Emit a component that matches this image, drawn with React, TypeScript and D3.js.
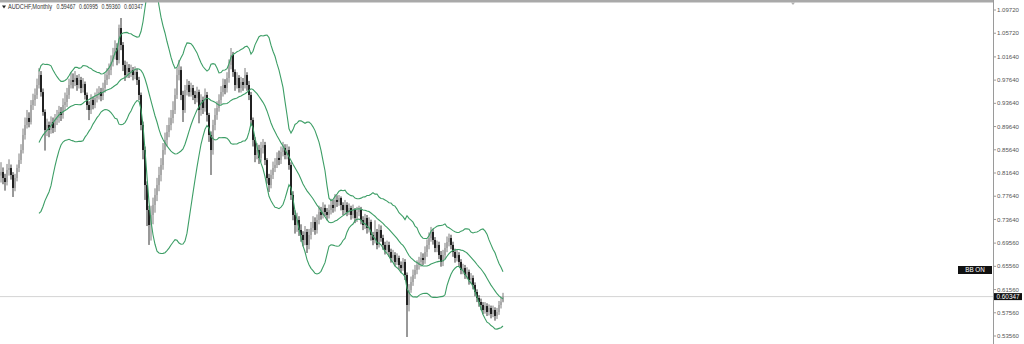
import React from "react";
import * as d3 from "d3";

// Monthly AUDCHF candles
const firstOpen = 0.812;
const closes = [
  0.8181, 0.8078, 0.8009, 0.8216, 0.8250, 0.8130, 0.7906, 0.8078, 0.8250, 0.8388,
  0.8560, 0.8819, 0.8991, 0.9112, 0.9043, 0.9335, 0.9422, 0.9508, 0.9680, 0.9852,
  0.9559, 0.9215, 0.8905, 0.8991, 0.8905, 0.9043, 0.8939, 0.9077, 0.9112, 0.9215,
  0.9163, 0.9335, 0.9387, 0.9508, 0.9680, 0.9766, 0.9732, 0.9801, 0.9680, 0.9766,
  0.9628, 0.9697, 0.9508, 0.9335, 0.9249, 0.9422, 0.9335, 0.9456, 0.9508, 0.9559,
  0.9490, 0.9628, 0.9766, 0.9852, 0.9938, 1.0076, 1.0197, 1.0317, 1.0111, 1.0662,
  1.0369, 1.0025, 0.9852, 0.9973, 0.9904, 0.9938, 0.9852, 0.9904, 0.9766, 0.9508,
  0.8991, 0.8560, 0.7957, 0.7527, 0.7268, 0.7441, 0.7613, 0.7785, 0.7957, 0.8130,
  0.8302, 0.8560, 0.8733, 0.8870, 0.8991, 0.9112, 0.9249, 0.9508, 0.9852, 0.9938,
  0.9508, 0.9249, 0.9594, 0.9680, 0.9559, 0.9628, 0.9508, 0.9456, 0.9559, 0.9249,
  0.9422, 0.9284, 0.9508, 0.9163, 0.8819, 0.8560, 0.8991, 0.9163, 0.9284, 0.9422,
  0.9559, 0.9680, 0.9628, 0.9801, 1.0025, 1.0197, 0.9904, 0.9680, 0.9801, 0.9628,
  0.9732, 0.9680, 0.9852, 0.9680, 0.9508, 0.9077, 0.8733, 0.8474, 0.8560, 0.8423,
  0.8595, 0.8646, 0.8388, 0.8078, 0.7957, 0.8130, 0.8250, 0.8302, 0.8423, 0.8388,
  0.8526, 0.8595, 0.8474, 0.8560, 0.8302, 0.7785, 0.7441, 0.7268, 0.7354, 0.7182,
  0.7096, 0.7010, 0.7148, 0.6924, 0.7096, 0.7217, 0.7320, 0.7182, 0.7354, 0.7492,
  0.7441, 0.7561, 0.7492, 0.7441, 0.7527, 0.7613, 0.7561, 0.7699, 0.7665, 0.7733,
  0.7613, 0.7527, 0.7613, 0.7492, 0.7561, 0.7441, 0.7527, 0.7389, 0.7492, 0.7527,
  0.7354, 0.7268, 0.7389, 0.7217, 0.7320, 0.7096, 0.7010, 0.7148, 0.6924, 0.7182,
  0.7044, 0.6924, 0.6838, 0.6924, 0.6803, 0.6700, 0.6751, 0.6631, 0.6700, 0.6579,
  0.6527, 0.6631, 0.6407, 0.5890, 0.6148, 0.6286, 0.6407, 0.6493, 0.6579, 0.6631,
  0.6700, 0.6665, 0.6803, 0.6924, 0.7044, 0.7148, 0.7010, 0.6872, 0.6924, 0.6751,
  0.6631, 0.6751, 0.6872, 0.6975, 0.7044, 0.6924, 0.6803, 0.6700, 0.6751, 0.6631,
  0.6493, 0.6527, 0.6407, 0.6459, 0.6321, 0.6355, 0.6235, 0.6114, 0.6011, 0.5942,
  0.5890, 0.5804, 0.5872, 0.5769, 0.5838, 0.5735, 0.5804, 0.5701, 0.5769, 0.5890,
  0.59467, 0.60347,
];
const highs = [
  0.835, 0.826, 0.815, 0.832, 0.840, 0.831, 0.818, 0.815, 0.831, 0.850,
  0.866, 0.893, 0.912, 0.925, 0.921, 0.942, 0.953, 0.962, 0.979, 0.997,
  0.992, 0.962, 0.926, 0.910, 0.905, 0.914, 0.912, 0.918, 0.925, 0.932,
  0.930, 0.945, 0.955, 0.963, 0.979, 0.990, 0.988, 0.992, 0.985, 0.987,
  0.982, 0.980, 0.974, 0.955, 0.940, 0.952, 0.948, 0.955, 0.962, 0.966,
  0.963, 0.972, 0.988, 0.997, 1.005, 1.019, 1.032, 1.045, 1.040, 1.072,
  1.0834, 1.042, 1.010, 1.008, 1.004, 1.003, 0.999, 1.000, 0.996, 0.982,
  0.955, 0.905, 0.862, 0.802, 0.760, 0.760, 0.774, 0.790, 0.808, 0.827,
  0.842, 0.868, 0.886, 0.899, 0.912, 0.925, 0.940, 0.962, 0.998, 1.0111,
  1.000, 0.958, 0.968, 0.978, 0.975, 0.972, 0.968, 0.958, 0.965, 0.960,
  0.952, 0.948, 0.962, 0.956, 0.920, 0.888, 0.908, 0.928, 0.940, 0.952,
  0.966, 0.979, 0.978, 0.990, 1.012, 1.0317, 1.025, 0.995, 0.990, 0.985,
  0.982, 0.980, 0.9973, 0.990, 0.975, 0.956, 0.912, 0.878, 0.868, 0.865,
  0.870, 0.875, 0.870, 0.842, 0.815, 0.822, 0.836, 0.842, 0.852, 0.855,
  0.862, 0.870, 0.866, 0.866, 0.862, 0.835, 0.785, 0.752, 0.748, 0.742,
  0.728, 0.716, 0.725, 0.720, 0.720, 0.732, 0.742, 0.740, 0.745, 0.760,
  0.758, 0.766, 0.762, 0.756, 0.762, 0.772, 0.770, 0.780, 0.778, 0.7785,
  0.776, 0.766, 0.770, 0.766, 0.764, 0.760, 0.762, 0.756, 0.758, 0.760,
  0.758, 0.742, 0.746, 0.744, 0.740, 0.736, 0.715, 0.735, 0.720, 0.728,
  0.726, 0.710, 0.698, 0.700, 0.698, 0.686, 0.684, 0.680, 0.678, 0.674,
  0.664, 0.670, 0.668, 0.645, 0.625, 0.638, 0.650, 0.658, 0.666, 0.672,
  0.680, 0.678, 0.690, 0.702, 0.714, 0.7235, 0.720, 0.706, 0.700, 0.698,
  0.682, 0.684, 0.696, 0.707, 0.712, 0.710, 0.698, 0.686, 0.684, 0.680,
  0.668, 0.660, 0.658, 0.654, 0.650, 0.644, 0.640, 0.628, 0.616, 0.606,
  0.600, 0.594, 0.594, 0.592, 0.590, 0.588, 0.588, 0.585, 0.584, 0.596,
  0.602, 0.60995,
];
const lows = [
  0.800, 0.797, 0.786, 0.795, 0.812, 0.805, 0.7751, 0.785, 0.802, 0.818,
  0.832, 0.850, 0.874, 0.893, 0.895, 0.900, 0.925, 0.932, 0.944, 0.962,
  0.948, 0.915, 0.855, 0.880, 0.878, 0.884, 0.885, 0.887, 0.899, 0.903,
  0.906, 0.910, 0.925, 0.930, 0.944, 0.962, 0.962, 0.966, 0.958, 0.962,
  0.954, 0.955, 0.943, 0.925, 0.9075, 0.918, 0.926, 0.928, 0.938, 0.943,
  0.940, 0.942, 0.955, 0.968, 0.978, 0.985, 1.000, 1.012, 1.002, 1.005,
  1.028, 0.992, 0.975, 0.980, 0.980, 0.982, 0.976, 0.978, 0.968, 0.942,
  0.890, 0.840, 0.770, 0.725, 0.6925, 0.700, 0.728, 0.748, 0.768, 0.785,
  0.802, 0.822, 0.848, 0.862, 0.878, 0.890, 0.902, 0.918, 0.944, 0.976,
  0.942, 0.9043, 0.920, 0.950, 0.948, 0.948, 0.942, 0.935, 0.938, 0.902,
  0.915, 0.918, 0.922, 0.905, 0.870, 0.813, 0.848, 0.890, 0.908, 0.922,
  0.935, 0.948, 0.952, 0.955, 0.972, 0.995, 0.982, 0.958, 0.962, 0.955,
  0.955, 0.958, 0.962, 0.958, 0.942, 0.898, 0.862, 0.835, 0.840, 0.832,
  0.836, 0.850, 0.830, 0.798, 0.7837, 0.790, 0.806, 0.818, 0.825, 0.830,
  0.832, 0.845, 0.840, 0.840, 0.822, 0.770, 0.735, 0.712, 0.715, 0.708,
  0.698, 0.690, 0.692, 0.6786, 0.685, 0.702, 0.715, 0.710, 0.712, 0.728,
  0.736, 0.738, 0.742, 0.735, 0.738, 0.745, 0.748, 0.750, 0.758, 0.760,
  0.752, 0.744, 0.746, 0.742, 0.744, 0.736, 0.738, 0.730, 0.732, 0.742,
  0.728, 0.718, 0.720, 0.712, 0.714, 0.700, 0.692, 0.695, 0.685, 0.688,
  0.698, 0.684, 0.676, 0.678, 0.672, 0.662, 0.664, 0.656, 0.658, 0.650,
  0.645, 0.648, 0.632, 0.5339, 0.578, 0.610, 0.622, 0.634, 0.642, 0.650,
  0.655, 0.658, 0.660, 0.672, 0.685, 0.698, 0.693, 0.680, 0.680, 0.668,
  0.655, 0.656, 0.668, 0.680, 0.690, 0.685, 0.672, 0.662, 0.664, 0.655,
  0.642, 0.642, 0.634, 0.634, 0.624, 0.625, 0.616, 0.604, 0.594, 0.586,
  0.580, 0.573, 0.574, 0.570, 0.571, 0.566, 0.568, 0.562, 0.565, 0.572,
  0.583, 0.5936,
];

const tickValues = [
  1.0972, 1.0572, 1.0164, 0.9764, 0.9364, 0.8964, 0.8564, 0.8164,
  0.7764, 0.7364, 0.6956, 0.6556, 0.6156, 0.5756, 0.5356,
];
const headerSymbol = "AUDCHF,Monthly";
const headerValues = ["0.59467", "0.60995", "0.59360", "0.60347"];
const currentPrice = 0.60347;
const bbLabel = "BB ON";
const bbPeriod = 20;
const bbDeviation = 2;

const W = 1024;
const H = 344;
const AXIS_X = 993;
const FONT = "'Liberation Sans', Arial, sans-serif";
const BAND_COLOR = "#3d9e66";

export default function App() {
  const n = closes.length;
  const opens = [firstOpen, ...closes.slice(0, -1)];
  const x = d3.scaleLinear().domain([0, n - 1]).range([1, 503]);
  const y = d3.scaleLinear().domain([0.5356, 1.0972]).range([336, 10]);

  type Band = { i: number; mid: number; up: number; lo: number };
  const bands: Band[] = [];
  for (let i = bbPeriod - 1; i < n; i++) {
    const win = closes.slice(i - bbPeriod + 1, i + 1);
    const m = d3.mean(win) as number;
    const sd = Math.sqrt(d3.mean(win, (v) => (v - m) * (v - m)) as number);
    bands.push({ i, mid: m, up: m + bbDeviation * sd, lo: m - bbDeviation * sd });
  }
  const bandPath = (key: "mid" | "up" | "lo") =>
    d3
      .line<Band>()
      .x((d) => x(d.i))
      .y((d) => y(d[key]))(bands) as string;

  const fmt = d3.format(".5f");
  const priceY = y(currentPrice);

  return (
    <div style={{ position: "fixed", left: 0, top: 0, width: W, height: H, background: "#fff" }}>
      <svg width={W} height={H} style={{ display: "block" }}>
        <rect x={0} y={0} width={W} height={H} fill="#ffffff" />
        <defs>
          <clipPath id="plot">
            <rect x={0} y={2} width={AXIS_X} height={H - 2} />
          </clipPath>
        </defs>

        {/* current price line */}
        <line x1={0} x2={AXIS_X} y1={priceY} y2={priceY} stroke="#d4d4d4" strokeWidth={1} />

        <g clipPath="url(#plot)">
          {closes.map((c, i) => {
            const o = opens[i];
            const bull = c >= o;
            const cx = x(i);
            const top = y(Math.max(o, c));
            const bot = y(Math.min(o, c));
            return (
              <g key={i}>
                <line
                  x1={cx}
                  x2={cx}
                  y1={y(highs[i])}
                  y2={y(lows[i])}
                  stroke={bull ? "#7c7c7c" : "#333333"}
                  strokeWidth={1}
                />
                <rect
                  x={cx - 0.9}
                  y={top}
                  width={1.8}
                  height={Math.max(0.8, bot - top)}
                  fill={bull ? "#a6a6a6" : "#151515"}
                />
              </g>
            );
          })}
          <path d={bandPath("up")} fill="none" stroke={BAND_COLOR} strokeWidth={1.1} />
          <path d={bandPath("mid")} fill="none" stroke={BAND_COLOR} strokeWidth={1.1} />
          <path d={bandPath("lo")} fill="none" stroke={BAND_COLOR} strokeWidth={1.1} />
        </g>

        {/* top border */}
        <rect x={0} y={0} width={AXIS_X} height={2.5} fill="#a9a9a9" />
        <path d="M791,2.5 L795,2.5 L793,5 Z" fill="#b0b0b0" />

        {/* header */}
        <path d="M2,5.5 L6,5.5 L4,8.5 Z" fill="#222" />
        <text x={8} y={9.2} fontFamily={FONT} fontSize={6.4} fill="#333" textLength={44} lengthAdjust="spacingAndGlyphs">
          {headerSymbol}
        </text>
        {headerValues.map((v, k) => (
          <text
            key={k}
            x={56.5 + k * 22.5}
            y={9.2}
            fontFamily={FONT}
            fontSize={6.4}
            fill="#333"
            textLength={19}
            lengthAdjust="spacingAndGlyphs"
          >
            {v}
          </text>
        ))}

        {/* right axis */}
        <line x1={AXIS_X + 0.5} x2={AXIS_X + 0.5} y1={0} y2={H} stroke="#9a9a9a" strokeWidth={1} />
        {tickValues.map((t) => (
          <g key={t} transform={`translate(${AXIS_X},${y(t)})`}>
            <line x1={0} x2={3} y1={0} y2={0} stroke="#9a9a9a" strokeWidth={1} />
            <text x={4} y={2.1} fontFamily={FONT} fontSize={6} fill="#555" textLength={22} lengthAdjust="spacingAndGlyphs">
              {fmt(t)}
            </text>
          </g>
        ))}

        {/* current price tag */}
        <rect x={AXIS_X + 1} y={priceY - 3.5} width={28} height={7} fill="#111" />
        <text x={AXIS_X + 3.5} y={priceY + 2.2} fontFamily={FONT} fontSize={6.3} fill="#fff" textLength={23} lengthAdjust="spacingAndGlyphs">
          {fmt(currentPrice)}
        </text>

        {/* BB ON label */}
        <rect x={958} y={266} width={34} height={8} fill="#111" />
        <text x={975} y={272.3} textAnchor="middle" fontFamily={FONT} fontSize={6.3} fill="#fff">
          {bbLabel}
        </text>
      </svg>
    </div>
  );
}
